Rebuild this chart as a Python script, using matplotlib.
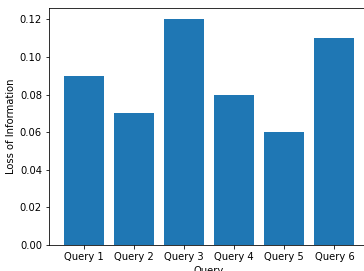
import matplotlib
matplotlib.use("Agg")
import matplotlib.pyplot as plt

queries = ["Query 1", "Query 2", "Query 3", "Query 4", "Query 5", "Query 6"]
loss = [0.09, 0.07, 0.12, 0.08, 0.06, 0.11]

W, H = 364, 271
fig = plt.figure(figsize=(W / 72, H / 72), dpi=72)
ax = fig.add_axes([49 / W, (H - 245) / H, 320 / W, 237 / H])
ax.bar(queries, loss, color="#1f77b4")
ax.set_xlabel("Query")
ax.set_ylabel("Loss of Information")
fig.savefig("out.png", dpi=72)
